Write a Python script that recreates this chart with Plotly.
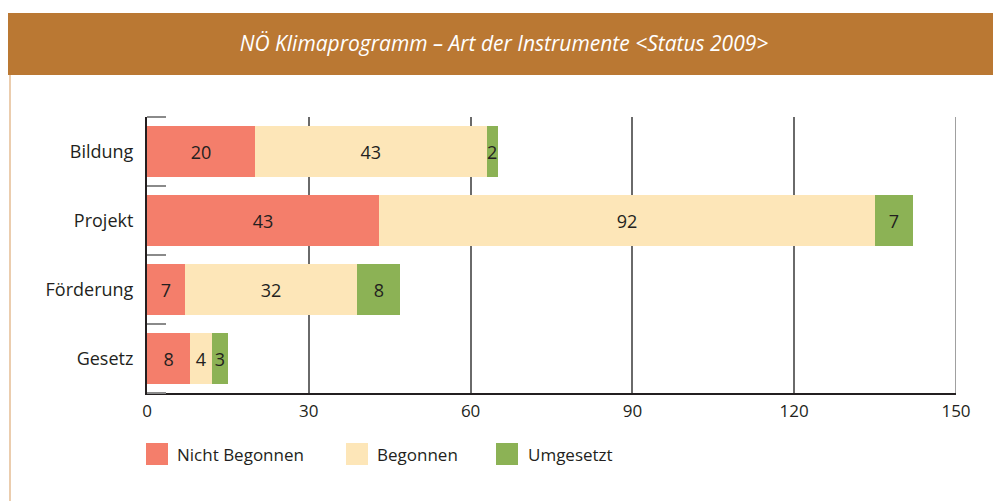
import plotly.graph_objects as go

categories = ["Bildung", "Projekt", "Förderung", "Gesetz"]
series_names = ["Nicht Begonnen", "Begonnen", "Umgesetzt"]
nicht_begonnen = [20, 43, 7, 8]
begonnen = [43, 92, 32, 4]
umgesetzt = [2, 7, 8, 3]
x_ticks = [0, 30, 60, 90, 120, 150]
title_text = "NÖ Klimaprogramm – Art der Instrumente <Status 2009>"

colors = ["#F47E6B", "#FDE6B8", "#8CB255"]
values = [nicht_begonnen, begonnen, umgesetzt]

OFF = 8  # browser default body margin
W, H = 1001 - OFF, 501 - OFF
L, R, T, B = 147, 956, 117, 393  # plot area in target-image pixels

def px_x(p):
    return (p - L) / (R - L)

def px_y(p):
    return (B - p) / (B - T)

fig = go.Figure()
for name, vals, col in zip(series_names, values, colors):
    fig.add_trace(go.Bar(
        y=categories, x=vals, name=name, orientation="h",
        marker=dict(color=col, line=dict(width=0)),
        text=[str(v) for v in vals], textposition="inside",
        insidetextanchor="middle", textangle=0,
        textfont=dict(family="Open Sans", size=18, color="#231F20"),
        showlegend=False, hoverinfo="x+y+name",
    ))

shapes = [
    # title banner
    dict(type="rect", xref="paper", yref="paper", x0=px_x(5), x1=px_x(1010),
         y0=px_y(75), y1=px_y(13), fillcolor="#BA7833", line=dict(width=0), layer="below"),
    # left beige frame line
    dict(type="line", xref="paper", yref="paper", x0=px_x(10), x1=px_x(10),
         y0=px_y(75), y1=px_y(510), line=dict(color="#EBCDAE", width=2)),
    # right boundary line at 150 (lighter)
    dict(type="line", xref="x", yref="paper", x0=150, x1=150, y0=0, y1=1,
         line=dict(color="#A0A0A0", width=2), layer="below"),
]
# category boundary ticks at the top and bottom edges
for yy in (0, 1):
    shapes.append(dict(type="line", xref="paper", yref="paper", x0=0, x1=px_x(166),
                       y0=yy, y1=yy, line=dict(color="#8A8A8A", width=2)))

annotations = []
leg_sq = [146, 346, 496]
leg_tx = [175, 375, 526]
for name, col, sx, tx in zip(series_names, colors, leg_sq, leg_tx):
    shapes.append(dict(type="rect", xref="paper", yref="paper",
                       x0=px_x(sx), x1=px_x(sx + 22), y0=px_y(465), y1=px_y(443),
                       fillcolor=col, line=dict(width=0)))
    annotations.append(dict(xref="paper", yref="paper", x=px_x(tx), y=px_y(454),
                            xanchor="left", yanchor="middle", text=name, showarrow=False,
                            font=dict(family="Open Sans", size=17, color="#231F20")))

fig.update_layout(
    width=W, height=H,
    margin=dict(l=L - OFF, r=W - (R - OFF), t=T - OFF, b=H - (B - OFF)),
    paper_bgcolor="white", plot_bgcolor="white",
    barmode="stack", bargap=0.275,
    uniformtext=dict(minsize=18, mode="show"),
    title=dict(text=title_text, x=(504 - OFF) / W, xanchor="center",
               y=1 - (44 - OFF) / H, yanchor="middle",
               font=dict(family="Open Sans", size=21, color="white", style="italic")),
    xaxis=dict(range=[0, 150], tickvals=x_ticks, showgrid=True, gridcolor="#6A6A6A",
               gridwidth=2, showline=True, linecolor="#231F20", linewidth=2,
               zeroline=False, ticks="", ticklabelstandoff=2,
               tickfont=dict(family="Open Sans", size=17, color="#231F20")),
    yaxis=dict(autorange="reversed", categoryorder="array", categoryarray=categories,
               showline=True, linecolor="#231F20", linewidth=2, ticks="inside",
               tickson="boundaries", ticklen=19, tickwidth=2, tickcolor="#8A8A8A",
               showgrid=False, ticklabelstandoff=8,
               tickfont=dict(family="Open Sans", size=18, color="#231F20")),
    shapes=shapes, annotations=annotations,
)

fig.write_html("out.html")
